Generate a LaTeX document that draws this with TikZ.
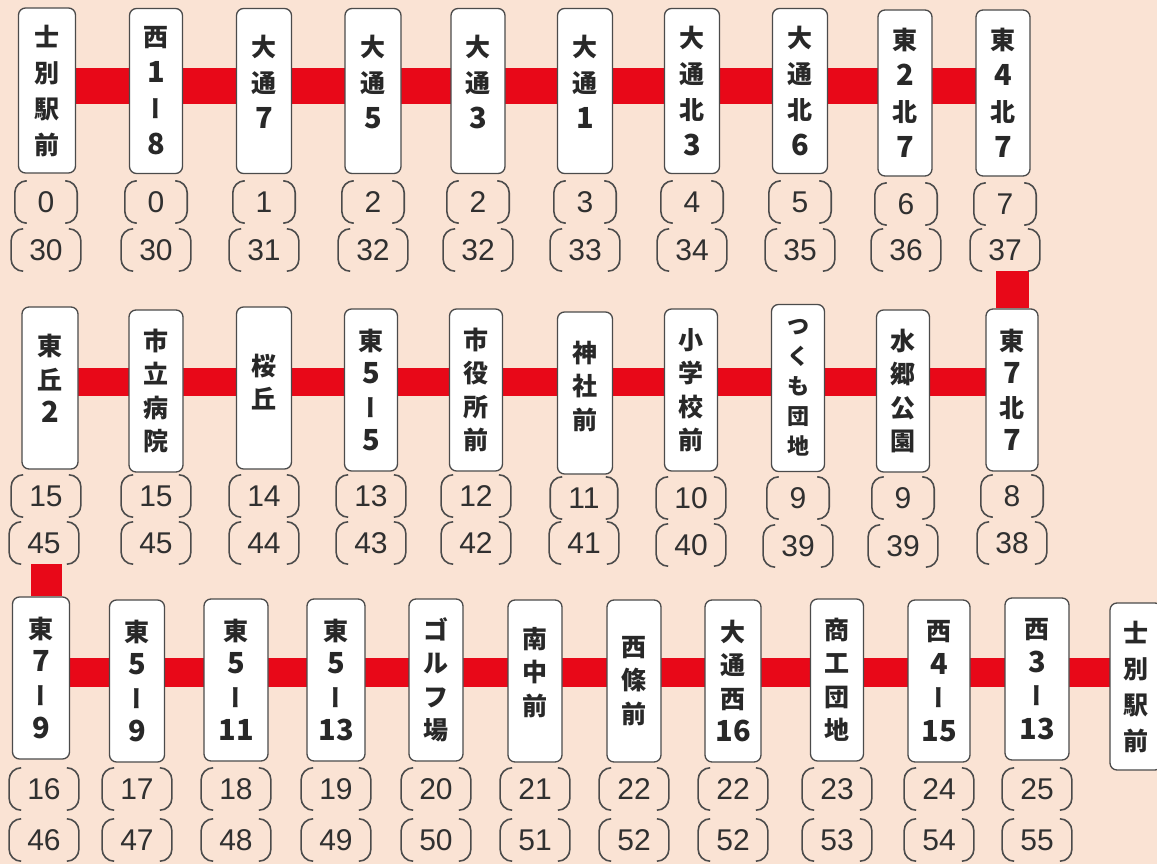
\documentclass[tikz,border=0pt]{standalone}
\usepackage{fontspec}
\newfontfamily\jpf{Noto Sans CJK JP}
\newfontfamily\nmf{Liberation Sans}
\definecolor{peach}{RGB}{250,227,212}
\definecolor{rline}{RGB}{232,8,24}
\definecolor{bord}{RGB}{75,75,75}
\definecolor{txt}{RGB}{40,40,40}
\definecolor{ntxt}{RGB}{48,48,48}
\pgfdeclarelayer{bg}
\pgfdeclarelayer{lines}
\pgfsetlayers{bg,lines,main}
\newcommand\dg[1]{{\fontsize{29}{34}\selectfont #1}}
\newcommand\vbar{{\addfontfeature{RawFeature=+vert}ー}}
\newcommand\brlab[4]{%
  \node[nlab] (#1) at (#2,#3) {#4};
  \draw[brk] ([xshift=12pt]#1.north west) -- (#1.north west) -- (#1.south west) -- ([xshift=12pt]#1.south west);
  \draw[brk] ([xshift=-12pt]#1.north east) -- (#1.north east) -- (#1.south east) -- ([xshift=-12pt]#1.south east);
}
\tikzset{
  stopbox/.style={draw=bord, line width=1.3pt, fill=white, rounded corners=7pt,
    inner sep=0pt, align=center, text=txt},
  big/.style={font=\jpf\bfseries\fontsize{25}{36}\selectfont},
  mid/.style={font=\jpf\bfseries\fontsize{25}{33.5}\selectfont},
  sml/.style={font=\jpf\bfseries\fontsize{22}{30}\selectfont},
  up/.style={text depth=#1},
  row1/.style={stopbox, big, minimum height=165pt},
  row2/.style={stopbox, mid, minimum height=162pt},
  row3/.style={stopbox, mid, minimum height=162pt},
  nlab/.style={minimum width=62pt, minimum height=42pt, inner xsep=18pt, inner ysep=0pt,
    text=ntxt, font=\nmf\fontsize{30}{32}\selectfont},
  brk/.style={draw=bord, line width=1.6pt, rounded corners=12pt},
  rl1/.style={draw=rline, line width=36pt},
  rl2/.style={draw=rline, line width=28pt},
  rl3/.style={draw=rline, line width=29pt},
  rv1/.style={draw=rline, line width=33pt},
  rv2/.style={draw=rline, line width=31pt},
}
\begin{document}
\begin{tikzpicture}[x=1pt,y=-1pt]
\useasboundingbox (0,0) rectangle (1157,864);
\begin{pgfonlayer}{bg}
  \fill[peach] (0,0) rectangle (1157,864);
\end{pgfonlayer}
\coordinate (y1) at (0,86);
\coordinate (y2) at (0,382);
\coordinate (y3) at (0,672);
\coordinate (vx2) at (46,0);

% ---------- row 1 ----------
\node[row1, minimum width=57pt] (r1a) at (47,90.5) {士\\別\\駅\\前};
\node[row1, minimum width=53pt] (r1b) at (156,91) {西\\\dg{1}\\\vbar\\\dg{8}};
\node[row1, up=19pt, minimum width=55pt] (r1c) at (264,91) {大\\通\\\dg{7}};
\node[row1, up=19pt, minimum width=56pt] (r1d) at (373,91) {大\\通\\\dg{5}};
\node[row1, up=19pt, minimum width=54pt] (r1e) at (478,91) {大\\通\\\dg{3}};
\node[row1, up=19pt, minimum width=55pt] (r1f) at (585,91) {大\\通\\\dg{1}};
\node[row1, minimum width=55pt] (r1g) at (692,91) {大\\通\\北\\\dg{3}};
\node[row1, minimum width=55pt] (r1h) at (800,91) {大\\通\\北\\\dg{6}};
\node[row1, minimum width=54pt, minimum height=166pt] (r1i) at (905,93) {東\\\dg{2}\\北\\\dg{7}};
\node[row1, minimum width=54pt, minimum height=166pt] (r1j) at (1003,93) {東\\\dg{4}\\北\\\dg{7}};

\brlab{n1a}{46}{202}{0}   \brlab{m1a}{46}{250}{30}
\brlab{n1b}{156}{202}{0}  \brlab{m1b}{156}{250}{30}
\brlab{n1c}{264}{202}{1}  \brlab{m1c}{264}{250}{31}
\brlab{n1d}{373}{202}{2}  \brlab{m1d}{373}{250}{32}
\brlab{n1e}{478}{202}{2}  \brlab{m1e}{478}{250}{32}
\brlab{n1f}{585}{202}{3}  \brlab{m1f}{585}{250}{33}
\brlab{n1g}{692}{202}{4}  \brlab{m1g}{692}{250}{34}
\brlab{n1h}{800}{202}{5}  \brlab{m1h}{800}{250}{35}
\brlab{n1i}{906}{204}{6}  \brlab{m1i}{906}{250}{36}
\brlab{n1j}{1005}{204}{7} \brlab{m1j}{1005}{250}{37}

% ---------- row 2 ----------
\node[row2, up=19pt, minimum width=56pt] (r2a) at (50,388) {東\\丘\\\dg{2}};
\node[row2, minimum width=54pt] (r2b) at (156,391) {市\\立\\病\\院};
\node[row2, up=13pt, minimum width=55pt] (r2c) at (264,388) {桜\\丘};
\node[row2, minimum width=53pt] (r2d) at (371,390) {東\\\dg{5}\\\vbar\\\dg{5}};
\node[row2, minimum width=53pt] (r2e) at (476,390) {市\\役\\所\\前};
\node[row2, up=16pt, minimum width=55pt] (r2f) at (585,393) {神\\社\\前};
\node[row2, minimum width=53pt] (r2g) at (691,390) {小\\学\\校\\前};
\node[row2, sml, minimum width=53pt, minimum height=167pt] (r2h) at (798,388) {つ\\く\\も\\団\\地};
\node[row2, minimum width=53pt] (r2i) at (903,391) {水\\郷\\公\\園};
\node[row2, minimum width=52pt] (r2j) at (1012,390) {東\\\dg{7}\\北\\\dg{7}};

\brlab{n2a}{46}{496}{15}  \brlab{m2a}{44}{543}{45}
\brlab{n2b}{156}{496}{15} \brlab{m2b}{156}{543}{45}
\brlab{n2c}{264}{496}{14} \brlab{m2c}{264}{543}{44}
\brlab{n2d}{371}{496}{13} \brlab{m2d}{371}{543}{43}
\brlab{n2e}{476}{496}{12} \brlab{m2e}{476}{543}{42}
\brlab{n2f}{584}{498}{11} \brlab{m2f}{584}{543}{41}
\brlab{n2g}{691}{498}{10} \brlab{m2g}{691}{545}{40}
\brlab{n2h}{798}{498}{9}  \brlab{m2h}{798}{546}{39}
\brlab{n2i}{903}{498}{9}  \brlab{m2i}{903}{546}{39}
\brlab{n2j}{1012}{496}{8} \brlab{m2j}{1012}{543}{38}

% ---------- row 3 ----------
\node[row3, minimum width=57pt] (r3a) at (41,678) {東\\\dg{7}\\\vbar\\\dg{9}};
\node[row3, minimum width=55pt] (r3b) at (137,681) {東\\\dg{5}\\\vbar\\\dg{9}};
\node[row3, minimum width=64pt] (r3c) at (236,680) {東\\\dg{5}\\\vbar\\\dg{11}};
\node[row3, minimum width=58pt] (r3d) at (336,680) {東\\\dg{5}\\\vbar\\\dg{13}};
\node[row3, minimum width=54pt] (r3e) at (436,680) {ゴ\\ル\\フ\\場};
\node[row3, up=20pt, minimum width=54pt] (r3f) at (535,681) {南\\中\\前};
\node[row3, minimum width=54pt] (r3g) at (634,681) {西\\條\\前};
\node[row3, minimum width=56pt] (r3h) at (733,681) {大\\通\\西\\\dg{16}};
\node[row3, minimum width=53pt] (r3i) at (837,680) {商\\工\\団\\地};
\node[row3, minimum width=62pt] (r3j) at (939,681) {西\\\dg{4}\\\vbar\\\dg{15}};
\node[row3, minimum width=64pt] (r3k) at (1037,679) {西\\\dg{3}\\\vbar\\\dg{13}};
\node[row3, big, minimum width=52pt, minimum height=167pt] (r3l) at (1136,686.5) {士\\別\\駅\\前};

\brlab{n3a}{44}{789}{16}   \brlab{m3a}{44}{840}{46}
\brlab{n3b}{137}{789}{17}  \brlab{m3b}{137}{840}{47}
\brlab{n3c}{236}{789}{18}  \brlab{m3c}{236}{840}{48}
\brlab{n3d}{336}{789}{19}  \brlab{m3d}{336}{840}{49}
\brlab{n3e}{436}{789}{20}  \brlab{m3e}{436}{840}{50}
\brlab{n3f}{535}{789}{21}  \brlab{m3f}{535}{840}{51}
\brlab{n3g}{634}{789}{22}  \brlab{m3g}{634}{840}{52}
\brlab{n3h}{733}{789}{22}  \brlab{m3h}{733}{840}{52}
\brlab{n3i}{837}{789}{23}  \brlab{m3i}{837}{840}{53}
\brlab{n3j}{939}{789}{24}  \brlab{m3j}{939}{840}{54}
\brlab{n3k}{1037}{789}{25} \brlab{m3k}{1037}{840}{55}

% ---------- connectors ----------
\begin{pgfonlayer}{lines}
  \foreach \a/\b in {r1a/r1b,r1b/r1c,r1c/r1d,r1d/r1e,r1e/r1f,r1f/r1g,r1g/r1h,r1h/r1i,r1i/r1j}
    \draw[rl1] (\a.center |- y1) -- (\b.center |- y1);
  \foreach \a/\b in {r2a/r2b,r2b/r2c,r2c/r2d,r2d/r2e,r2e/r2f,r2f/r2g,r2g/r2h,r2h/r2i,r2i/r2j}
    \draw[rl2] (\a.center |- y2) -- (\b.center |- y2);
  \foreach \a/\b in {r3a/r3b,r3b/r3c,r3c/r3d,r3d/r3e,r3e/r3f,r3f/r3g,r3g/r3h,r3h/r3i,r3i/r3j,r3j/r3k,r3k/r3l}
    \draw[rl3] (\a.center |- y3) -- (\b.center |- y3);
  \draw[rv1] (m1j.south -| r2j.center) -- (r2j.north);
  \draw[rv2] (m2a.south -| vx2) -- (r3a.north -| vx2);
\end{pgfonlayer}
\end{tikzpicture}
\end{document}
